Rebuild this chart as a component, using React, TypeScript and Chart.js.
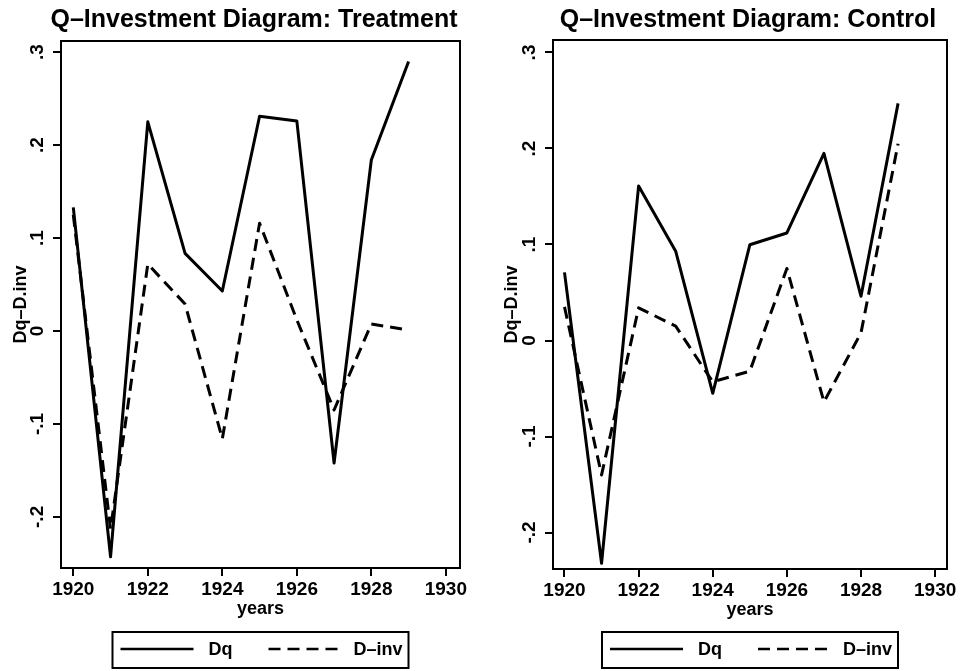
import React, { useEffect, useRef } from "react";
import { Chart, registerables } from "chart.js";

Chart.register(...registerables);

// ---------- data ----------
const years = [1920, 1921, 1922, 1923, 1924, 1925, 1926, 1927, 1928, 1929];
const treatmentDq = [0.133, -0.243, 0.225, 0.0835, 0.043, 0.231, 0.226, -0.142, 0.184, 0.29];
const treatmentDinv = [0.125, -0.213, 0.072, 0.029, -0.116, 0.116, 0.012, -0.085, 0.0075, 0.001];
const controlDq = [0.071, -0.232, 0.161, 0.093, -0.055, 0.0997, 0.112, 0.195, 0.046, 0.247];
const controlDinv = [0.035, -0.14, 0.034, 0.015, -0.043, -0.032, 0.075, -0.064, 0.008, 0.205];
const xTickValues = [1920, 1922, 1924, 1926, 1928, 1930];
const yTickValues = [-0.2, -0.1, 0, 0.1, 0.2, 0.3];
const yTickLabels = ["-.2", "-.1", "0", ".1", ".2", ".3"];
const seriesLabels = ["Dq", "D\u2013inv"];
const titles = ["Q\u2013Investment Diagram: Treatment", "Q\u2013Investment Diagram: Control"];
const xAxisTitle = "years";
const yAxisTitle = "Dq\u2013D.inv";

const FONT = '"Liberation Sans", Arial, Helvetica, sans-serif';

type PanelCfg = {
  title: string;
  dq: number[];
  dinv: number[];
  offsetX: number;
  left: number;
  right: number;
  top: number;
  bottom: number;
  xMin: number;
  xMax: number;
  yMin: number;
  yMax: number;
  titleX: number;
  yTitlePad: number;
};

const panels: PanelCfg[] = [
  {
    title: titles[0],
    dq: treatmentDq,
    dinv: treatmentDinv,
    offsetX: 0,
    left: 61,
    right: 460,
    top: 41,
    bottom: 568,
    xMin: 1919.67,
    xMax: 1930.38,
    yMin: -0.255,
    yMax: 0.312,
    titleX: 254,
    yTitlePad: 10,
  },
  {
    title: titles[1],
    dq: controlDq,
    dinv: controlDinv,
    offsetX: 480,
    left: 73,
    right: 467,
    top: 40,
    bottom: 569,
    xMin: 1919.69,
    xMax: 1930.32,
    yMin: -0.238,
    yMax: 0.313,
    titleX: 268,
    yTitlePad: 21,
  },
];

const X_AXIS_H = 52;
const DASH = [12, 7];

const decorPlugin = {
  id: "decor",
  afterDraw(chart: any, _args: any, opts: any) {
    const { ctx, chartArea: a, scales } = chart;
    ctx.save();
    // frame
    ctx.strokeStyle = "#000";
    ctx.lineWidth = 2;
    ctx.setLineDash([]);
    ctx.strokeRect(a.left, a.top, a.right - a.left, a.bottom - a.top);

    // rotated y tick labels
    ctx.fillStyle = "#000";
    ctx.font = `bold 19px ${FONT}`;
    const ys = scales.y;
    ys.ticks.forEach((t: any) => {
      const idx = yTickValues.findIndex((v) => Math.abs(v - t.value) < 1e-9);
      if (idx < 0) return;
      const py = ys.getPixelForValue(t.value);
      ctx.save();
      ctx.translate(a.left - 18, py);
      ctx.rotate(-Math.PI / 2);
      ctx.textAlign = "center";
      ctx.textBaseline = "alphabetic";
      ctx.fillText(yTickLabels[idx], 0, 0);
      ctx.restore();
    });

    // title
    ctx.font = `bold 25px ${FONT}`;
    ctx.textAlign = "center";
    ctx.textBaseline = "alphabetic";
    ctx.fillText(opts.title, opts.titleX, 27);

    // legend box
    const boxW = 296;
    const boxH = 36;
    const cx = (a.left + a.right) / 2;
    const bx = cx - boxW / 2;
    const by = 632;
    ctx.lineWidth = 2;
    ctx.strokeRect(bx, by, boxW, boxH);
    const lineStart = [8, 156];
    const lineEnd = [81, 228];
    const textStart = [96, 241];
    chart.data.datasets.forEach((ds: any, i: number) => {
      ctx.beginPath();
      ctx.lineWidth = 2.5;
      ctx.setLineDash(ds.borderDash || []);
      ctx.moveTo(bx + lineStart[i], 649);
      ctx.lineTo(bx + lineEnd[i], 649);
      ctx.stroke();
      ctx.setLineDash([]);
      ctx.font = `bold 18px ${FONT}`;
      ctx.textAlign = "left";
      ctx.textBaseline = "alphabetic";
      ctx.fillText(ds.label, bx + textStart[i], 655);
    });
    ctx.restore();
  },
};

function Panel({ cfg }: { cfg: PanelCfg }) {
  const ref = useRef<HTMLCanvasElement | null>(null);
  useEffect(() => {
    if (!ref.current) return;
    const chart = new Chart(ref.current, {
      type: "line",
      data: {
        datasets: [
          {
            label: seriesLabels[0],
            data: years.map((x, i) => ({ x, y: cfg.dq[i] })),
            borderColor: "#000",
            borderWidth: 3,
            borderJoinStyle: "round",
            pointRadius: 0,
            tension: 0,
            fill: false,
          },
          {
            label: seriesLabels[1],
            data: years.map((x, i) => ({ x, y: cfg.dinv[i] })),
            borderColor: "#000",
            borderWidth: 3,
            borderJoinStyle: "round",
            borderDash: DASH,
            pointRadius: 0,
            tension: 0,
            fill: false,
          },
        ],
      },
      options: {
        responsive: false,
        animation: false,
        devicePixelRatio: 1,
        layout: {
          padding: {
            left: 0,
            right: 480 - cfg.right,
            top: cfg.top,
            bottom: 671 - cfg.bottom - X_AXIS_H,
          },
        },
        plugins: {
          legend: { display: false },
          tooltip: { enabled: false },
          title: { display: false },
          decor: { title: cfg.title, titleX: cfg.titleX },
        } as any,
        scales: {
          x: {
            type: "linear",
            min: cfg.xMin,
            max: cfg.xMax,
            afterBuildTicks: (s: any) => {
              s.ticks = xTickValues.map((v) => ({ value: v }));
            },
            afterFit: (s: any) => {
              s.height = X_AXIS_H;
            },
            grid: {
              display: true,
              drawOnChartArea: false,
              drawTicks: true,
              tickLength: 8,
              tickColor: "#000",
              lineWidth: 2,
            },
            border: { display: false },
            ticks: {
              padding: 2,
              color: "#000",
              font: { family: FONT, size: 19, weight: "bold" },
              maxRotation: 0,
              minRotation: 0,
              autoSkip: false,
              callback: (v: any) => String(v),
            },
            title: {
              display: true,
              text: xAxisTitle,
              color: "#000",
              font: { family: FONT, size: 18, weight: "bold" },
              padding: { top: 0, bottom: 0 },
            },
          },
          y: {
            type: "linear",
            min: cfg.yMin,
            max: cfg.yMax,
            afterBuildTicks: (s: any) => {
              s.ticks = yTickValues.map((v) => ({ value: v }));
            },
            afterFit: (s: any) => {
              s.width = cfg.left;
            },
            grid: {
              display: true,
              drawOnChartArea: false,
              drawTicks: true,
              tickLength: 8,
              tickColor: "#000",
              lineWidth: 2,
            },
            border: { display: false },
            ticks: { display: false },
            title: {
              display: true,
              text: yAxisTitle,
              color: "#000",
              font: { family: FONT, size: 18, weight: "bold" },
              padding: { top: cfg.yTitlePad, bottom: 0 },
            },
          },
        },
      } as any,
      plugins: [decorPlugin],
    });
    return () => chart.destroy();
  }, [cfg]);
  return (
    <canvas
      ref={ref}
      width={480}
      height={671}
      style={{ position: "absolute", left: cfg.offsetX, top: 0, width: 480, height: 671 }}
    />
  );
}

export default function App() {
  return (
    <div style={{ position: "absolute", left: 0, top: 0, width: 960, height: 671, background: "#fff" }}>
      {panels.map((p, i) => (
        <Panel key={i} cfg={p} />
      ))}
    </div>
  );
}
